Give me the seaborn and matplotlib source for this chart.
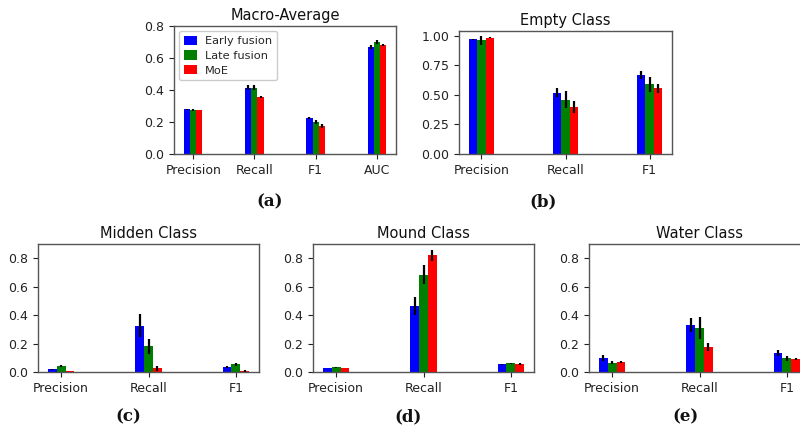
import numpy as np
import pandas as pd
import matplotlib
matplotlib.use('Agg')
import matplotlib.pyplot as plt
import seaborn as sns

# Modele i kolory
models = ['Early fusion', 'Late fusion', 'MoE']
colors = ['blue', 'green', 'red']

# (a) Macro-Average
macro_metrics = ['Precision', 'Recall', 'F1', 'AUC']
macro_early = [0.280, 0.415, 0.225, 0.670]
macro_late = [0.275, 0.415, 0.200, 0.700]
macro_moe = [0.275, 0.355, 0.175, 0.682]
macro_early_err = [0.004, 0.015, 0.007, 0.012]
macro_late_err = [0.006, 0.016, 0.015, 0.010]
macro_moe_err = [0.003, 0.008, 0.010, 0.008]

# (b) Empty Class
class_metrics = ['Precision', 'Recall', 'F1']
empty_early = [0.970, 0.520, 0.665]
empty_late = [0.960, 0.460, 0.590]
empty_moe = [0.985, 0.400, 0.555]
empty_early_err = [0.004, 0.040, 0.035]
empty_late_err = [0.035, 0.070, 0.065]
empty_moe_err = [0.004, 0.050, 0.040]

# (c) Midden Class
midden_early = [0.020, 0.325, 0.035]
midden_late = [0.040, 0.180, 0.055]
midden_moe = [0.006, 0.025, 0.006]
midden_early_err = [0.004, 0.080, 0.005]
midden_late_err = [0.008, 0.055, 0.010]
midden_moe_err = [0.002, 0.020, 0.005]

# (d) Mound Class
mound_early = [0.028, 0.465, 0.055]
mound_late = [0.033, 0.685, 0.062]
mound_moe = [0.028, 0.820, 0.055]
mound_early_err = [0.003, 0.065, 0.003]
mound_late_err = [0.003, 0.065, 0.004]
mound_moe_err = [0.003, 0.040, 0.005]

# (e) Water Class
water_early = [0.100, 0.330, 0.135]
water_late = [0.065, 0.310, 0.095]
water_moe = [0.070, 0.175, 0.090]
water_early_err = [0.020, 0.050, 0.020]
water_late_err = [0.012, 0.080, 0.015]
water_moe_err = [0.010, 0.030, 0.008]

sns.set_style('ticks')
plt.rcParams['font.family'] = ['DejaVu Sans']
plt.rcParams['axes.edgecolor'] = '#555555'
plt.rcParams['axes.linewidth'] = 1.0

fig = plt.figure(figsize=(8, 4.33), dpi=100)


def px_axes(left, right, top, bottom):
    W, H = 800, 433
    return fig.add_axes([left / W, 1 - bottom / H, (right - left) / W, (bottom - top) / H])


def panel(ax, title, metrics, vals, errs, ylim, yticks, yfmt, legend=False):
    df = pd.DataFrame({
        'metric': np.tile(metrics, len(models)),
        'model': np.repeat(models, len(metrics)),
        'value': np.concatenate(vals),
    })
    sns.barplot(data=df, x='metric', y='value', hue='model', order=metrics,
                hue_order=models, palette=colors, width=0.3, errorbar=None,
                saturation=1, legend=False, linewidth=0, edgecolor='none',
                ax=ax)
    for cont, err in zip(ax.containers, errs):
        xs = [b.get_x() + b.get_width() / 2 for b in cont]
        ys = [b.get_height() for b in cont]
        ax.errorbar(xs, ys, yerr=err, fmt='none', ecolor='black',
                    elinewidth=1.6, capsize=0)
    n = len(metrics)
    m = 0.05 * (n - 1 + 0.3)
    ax.set_xlim(-0.15 - m, n - 1 + 0.15 + m)
    ax.set_ylim(*ylim)
    ax.set_yticks(yticks)
    ax.set_yticklabels([yfmt.format(t) for t in yticks])
    ax.set_xlabel('')
    ax.set_ylabel('')
    ax.set_title(title, fontsize=10.5, color='#111111', pad=4)
    ax.tick_params(labelsize=9, colors='#222222', length=3.5)
    for s in ax.spines.values():
        s.set_visible(True)
    if legend:
        ax.legend(ax.containers, models, loc='upper left', fontsize=8.2,
                  handlelength=1.2, handleheight=0.85, borderaxespad=0.45,
                  labelspacing=0.38, handletextpad=0.7, framealpha=1,
                  edgecolor='#cccccc', fancybox=True)


ax_a = px_axes(174, 396, 26, 154)
panel(ax_a, 'Macro-Average', macro_metrics,
      [macro_early, macro_late, macro_moe],
      [macro_early_err, macro_late_err, macro_moe_err],
      (0, 0.8), [0, 0.2, 0.4, 0.6, 0.8], '{:.1f}', legend=True)

ax_b = px_axes(459, 672, 31, 154)
panel(ax_b, 'Empty Class', class_metrics,
      [empty_early, empty_late, empty_moe],
      [empty_early_err, empty_late_err, empty_moe_err],
      (0, 1.04), [0, 0.25, 0.5, 0.75, 1.0], '{:.2f}')

ax_c = px_axes(38, 259, 244, 372)
panel(ax_c, 'Midden Class', class_metrics,
      [midden_early, midden_late, midden_moe],
      [midden_early_err, midden_late_err, midden_moe_err],
      (0, 0.9), [0, 0.2, 0.4, 0.6, 0.8], '{:.1f}')

ax_d = px_axes(313, 534, 244, 372)
panel(ax_d, 'Mound Class', class_metrics,
      [mound_early, mound_late, mound_moe],
      [mound_early_err, mound_late_err, mound_moe_err],
      (0, 0.9), [0, 0.2, 0.4, 0.6, 0.8], '{:.1f}')

ax_e = px_axes(589, 810, 244, 372)
panel(ax_e, 'Water Class', class_metrics,
      [water_early, water_late, water_moe],
      [water_early_err, water_late_err, water_moe_err],
      (0, 0.9), [0, 0.2, 0.4, 0.6, 0.8], '{:.1f}')

# Podpisy podrysunków
for lab, x, y in [('(a)', 270, 202), ('(b)', 543, 202), ('(c)', 128, 417),
                  ('(d)', 408, 417), ('(e)', 685, 417)]:
    fig.text(x / 800, 1 - y / 433, lab, ha='center', va='center',
             fontsize=12, fontweight='bold', family='DejaVu Serif',
             color='#111111')

fig.savefig('out.png', dpi=100)
